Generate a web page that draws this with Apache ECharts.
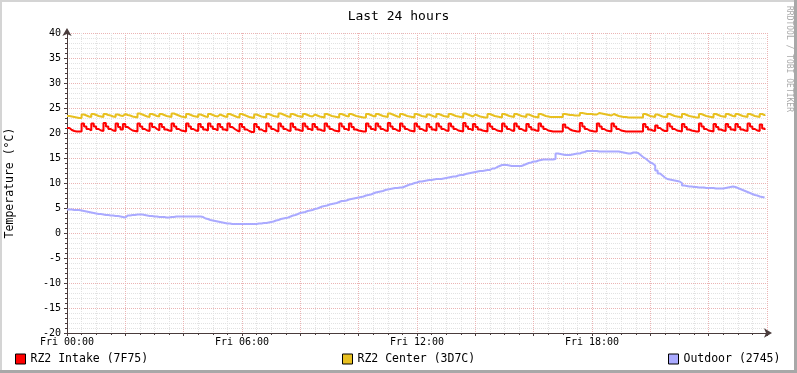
<!DOCTYPE html>
<html><head><meta charset="utf-8">
<script src="https://cdn.jsdelivr.net/npm/echarts@6/dist/echarts.min.js"></script>
<style>html,body{margin:0;padding:0;background:#fff}#c{width:797px;height:373px}</style>
</head><body><div id="c"></div>
<script>
const stepMinutes = 5;
const titleText = 'Last 24 hours';
const yAxisName = 'Temperature (°C)';
const xTickLabels = ['Fri 00:00', 'Fri 06:00', 'Fri 12:00', 'Fri 18:00'];
const seriesNames = ['RZ2 Intake (7F75)', 'RZ2 Center (3D7C)', 'Outdoor (2745)'];
const seriesColors = ['#ff0000', '#e8c020', '#aaaaff'];

const intake = [
21.0,20.6,20.4,20.3,20.3,20.3,21.9,21.3,20.8,20.5,21.9,21.3,
20.8,20.5,20.4,22.0,21.3,20.8,20.5,20.4,21.9,21.2,20.7,21.8,
21.2,20.8,20.5,20.4,20.3,21.9,21.3,20.8,20.5,20.4,21.9,21.2,
20.8,20.5,21.8,21.2,20.7,20.5,20.4,21.9,21.3,20.8,20.5,20.4,
20.3,21.9,21.3,20.8,20.5,20.4,21.8,21.2,20.7,20.5,21.9,21.3,
20.8,20.5,21.8,21.2,20.7,20.5,21.9,21.2,20.8,20.5,20.3,21.8,
21.2,20.7,20.4,20.2,20.2,21.8,21.2,20.7,20.4,20.3,21.9,21.3,
20.8,20.5,20.3,21.9,21.3,20.8,20.5,20.4,21.9,21.2,20.7,20.5,
20.4,21.9,21.3,20.8,20.5,21.8,21.2,20.7,20.5,20.4,21.9,21.3,
20.8,20.5,20.4,20.3,21.9,21.3,20.8,20.5,21.9,21.2,20.7,20.5,
20.4,20.3,20.3,21.9,21.3,20.8,20.5,21.9,21.3,20.8,20.5,20.4,
22.0,21.3,20.8,20.5,20.4,21.9,21.3,20.8,20.5,20.4,20.3,21.9,
21.3,20.8,20.5,20.4,21.8,21.2,20.7,20.5,21.9,21.3,20.8,20.5,
20.4,21.9,21.3,20.8,20.5,20.4,20.3,22.0,21.3,20.8,20.5,21.8,
21.2,20.7,20.5,20.4,20.3,21.9,21.3,20.8,20.5,20.4,20.3,21.9,
21.3,20.8,20.5,20.4,21.9,21.3,20.8,20.5,20.4,21.8,21.2,20.7,
20.5,20.4,21.9,21.3,20.8,20.5,20.4,20.3,20.3,20.3,20.3,20.3,
21.7,21.1,20.7,20.5,20.4,20.3,20.3,22.0,21.3,20.8,20.5,20.4,
20.3,20.3,21.9,21.3,20.8,20.5,20.4,20.3,21.9,21.3,20.8,20.5,
20.4,20.3,20.3,20.3,20.3,20.3,20.3,20.3,20.3,21.8,21.2,20.7,
20.5,20.4,21.5,21.0,20.6,20.4,20.4,21.9,21.3,20.8,20.5,20.4,
20.3,21.8,21.2,20.7,20.5,20.4,20.3,20.3,21.9,21.3,20.8,20.5,
20.4,20.3,21.8,21.2,20.7,20.5,20.4,21.8,21.2,20.7,20.5,21.8,
21.2,20.7,20.5,20.4,21.9,21.3,20.8,20.5,20.4,21.7,20.9,20.6
];

const center = [
23.4,23.3,23.2,23.1,23.0,23.0,23.7,23.5,23.3,23.2,23.8,23.6,
23.4,23.3,23.2,23.8,23.6,23.5,23.3,23.2,23.7,23.5,23.4,23.8,
23.6,23.5,23.3,23.2,23.1,23.9,23.7,23.5,23.3,23.2,23.8,23.6,
23.4,23.3,23.8,23.6,23.4,23.3,23.2,23.9,23.7,23.5,23.3,23.2,
23.1,23.8,23.6,23.4,23.3,23.2,23.7,23.5,23.3,23.2,23.8,23.6,
23.4,23.3,23.7,23.5,23.3,23.2,23.8,23.6,23.4,23.2,23.1,23.8,
23.6,23.4,23.2,23.1,23.0,23.7,23.5,23.3,23.2,23.1,23.8,23.6,
23.4,23.3,23.2,23.9,23.7,23.5,23.3,23.2,23.8,23.6,23.4,23.3,
23.2,23.8,23.6,23.4,23.3,23.7,23.5,23.3,23.2,23.1,23.8,23.6,
23.4,23.3,23.2,23.1,23.8,23.6,23.4,23.3,23.8,23.6,23.4,23.3,
23.2,23.1,23.1,23.8,23.6,23.4,23.3,23.8,23.6,23.4,23.3,23.2,
23.9,23.7,23.5,23.3,23.2,23.8,23.6,23.4,23.3,23.2,23.1,23.8,
23.6,23.4,23.3,23.2,23.7,23.5,23.3,23.2,23.8,23.6,23.4,23.3,
23.2,23.8,23.6,23.4,23.3,23.2,23.1,23.9,23.7,23.5,23.3,23.7,
23.5,23.3,23.2,23.1,23.1,23.8,23.6,23.4,23.3,23.2,23.1,23.8,
23.6,23.4,23.3,23.2,23.8,23.6,23.4,23.3,23.2,23.7,23.5,23.3,
23.2,23.1,23.8,23.6,23.4,23.3,23.2,23.2,23.2,23.2,23.2,23.2,
23.8,23.7,23.6,23.6,23.5,23.5,23.5,24.0,23.9,23.8,23.8,23.8,
23.7,23.7,24.0,23.9,23.8,23.7,23.6,23.5,23.8,23.6,23.4,23.3,
23.2,23.2,23.1,23.1,23.1,23.1,23.1,23.1,23.1,23.8,23.6,23.4,
23.3,23.2,23.7,23.5,23.3,23.2,23.2,23.8,23.6,23.4,23.3,23.2,
23.1,23.8,23.6,23.4,23.3,23.2,23.1,23.1,23.8,23.6,23.4,23.3,
23.2,23.1,23.8,23.6,23.4,23.3,23.2,23.8,23.6,23.4,23.3,23.8,
23.6,23.4,23.3,23.2,23.8,23.6,23.4,23.3,23.2,23.8,23.6,23.4
];

const outdoor = [
4.7,4.7,4.6,4.6,4.6,4.5,4.4,4.3,4.2,4.1,4.0,3.9,
3.8,3.8,3.7,3.6,3.6,3.5,3.5,3.4,3.4,3.3,3.2,3.1,
3.5,3.5,3.6,3.6,3.7,3.7,3.7,3.6,3.5,3.4,3.4,3.3,
3.3,3.2,3.2,3.2,3.1,3.1,3.2,3.2,3.3,3.3,3.3,3.3,
3.3,3.3,3.3,3.3,3.3,3.3,3.3,3.2,2.9,2.8,2.6,2.5,
2.4,2.3,2.2,2.1,2.0,1.9,1.9,1.8,1.8,1.8,1.8,1.8,
1.8,1.8,1.8,1.8,1.8,1.8,1.9,1.9,2.0,2.0,2.1,2.2,
2.3,2.5,2.6,2.8,2.9,3.0,3.1,3.3,3.5,3.6,3.8,4.0,
4.1,4.2,4.4,4.5,4.6,4.8,4.9,5.1,5.3,5.4,5.5,5.7,
5.8,5.9,6.0,6.2,6.4,6.4,6.5,6.7,6.8,6.9,7.0,7.1,
7.2,7.3,7.5,7.6,7.7,7.9,8.1,8.2,8.3,8.4,8.6,8.7,
8.8,8.9,9.0,9.0,9.1,9.1,9.3,9.5,9.7,9.8,10.0,10.1,
10.3,10.3,10.4,10.5,10.6,10.6,10.7,10.8,10.8,10.8,10.9,11.0,
11.1,11.2,11.3,11.3,11.5,11.6,11.6,11.8,11.9,12.0,12.1,12.2,
12.3,12.4,12.4,12.5,12.6,12.6,12.9,12.9,13.2,13.4,13.6,13.6,
13.6,13.5,13.4,13.4,13.4,13.4,13.4,13.6,13.8,14.0,14.1,14.3,
14.3,14.5,14.6,14.7,14.7,14.7,14.7,14.7,14.8,15.9,15.8,15.7,
15.6,15.6,15.6,15.7,15.8,15.9,15.9,16.1,16.2,16.4,16.4,16.4,
16.4,16.4,16.3,16.3,16.3,16.3,16.3,16.3,16.3,16.3,16.3,16.2,
16.1,16.0,15.9,15.9,16.1,16.1,16.0,15.6,15.2,14.9,14.5,14.1,
13.9,13.5,12.5,11.9,11.5,11.1,10.8,10.7,10.6,10.5,10.4,10.3,
10.0,9.5,9.4,9.3,9.3,9.2,9.2,9.1,9.1,9.1,9.0,9.0,
9.0,9.0,8.9,8.9,8.9,8.9,9.0,9.1,9.2,9.3,9.2,9.0,
8.8,8.6,8.4,8.2,8.0,7.8,7.6,7.5,7.3,7.2,7.1,7.1
];

const FONT = '"DejaVu Sans Mono", monospace';
const toPairs = arr => arr.map((v, i) => [i * stepMinutes, v]);
const values = [intake, center, outdoor];

const axisColor = '#4a3c3c';
const majorGrid = { show: true, lineStyle: { color: '#ebb4b4', type: [1, 1], width: 1 } };
const minorGrid = { show: true, lineStyle: { color: '#e2e2e2', type: [1, 1], width: 1 } };

const chart = echarts.init(document.getElementById('c'), null, { renderer: 'canvas' });
chart.setOption({
  animation: false,
  backgroundColor: '#ffffff',
  title: {
    text: titleText, left: 'center', top: 5,
    textStyle: { fontFamily: FONT, fontSize: 13, fontWeight: 'normal', color: '#000' }
  },
  grid: { left: 67, top: 33, width: 700, height: 300, containLabel: false, outerBoundsMode: 'none' },
  xAxis: {
    type: 'value', min: 0, max: 1440, interval: 120,
    axisLine: { show: true, onZero: false, lineStyle: { color: axisColor, width: 1 },
      symbol: ['none', 'arrow'], symbolSize: [7, 8], symbolOffset: [0, 5] },
    axisTick: { show: true, length: 3, lineStyle: { color: axisColor } },
    minorTick: { show: true, splitNumber: 4, length: 2, lineStyle: { color: axisColor } },
    splitLine: majorGrid,
    minorSplitLine: minorGrid,
    axisLabel: {
      margin: 4, fontFamily: FONT, fontSize: 10, color: '#000',
      showMaxLabel: false,
      formatter: v => (v % 360 === 0 && v < 1440) ? xTickLabels[v / 360] : ''
    }
  },
  yAxis: {
    type: 'value', min: -20, max: 40, interval: 5,
    name: yAxisName, nameLocation: 'middle', nameRotate: 90, nameGap: 51,
    nameTextStyle: { fontFamily: FONT, fontSize: 11.5, color: '#000' },
    axisLine: { show: true, onZero: false, lineStyle: { color: axisColor, width: 1 },
      symbol: ['none', 'arrow'], symbolSize: [7, 8], symbolOffset: [0, 5] },
    axisTick: { show: true, length: 3, lineStyle: { color: axisColor } },
    minorTick: { show: true, splitNumber: 5, length: 2, lineStyle: { color: axisColor } },
    splitLine: majorGrid,
    minorSplitLine: minorGrid,
    axisLabel: { margin: 6, fontFamily: FONT, fontSize: 10, color: '#000' }
  },
  legend: seriesNames.map((n, i) => ({
    data: [n], left: [15, 342, 668][i], top: 353, padding: 0,
    icon: 'rect', itemWidth: 10, itemHeight: 10,
    itemStyle: { borderColor: '#000', borderWidth: 1 },
    textStyle: { fontFamily: FONT, fontSize: 11.5, color: '#000' },
    selectedMode: false
  })),
  series: seriesNames.map((n, i) => ({
    name: n, type: 'line', step: 'end', showSymbol: false, silent: true,
    data: toPairs(values[i]), color: seriesColors[i],
    lineStyle: { color: seriesColors[i], width: 2 }
  })),
  graphic: [
    { type: 'text', x: 789, y: 6, rotation: -Math.PI / 2,
      style: { text: 'RRDTOOL / TOBI OETIKER', fontFamily: FONT, fontSize: 8, fill: '#aaaaaa',
        textAlign: 'left', textVerticalAlign: 'middle' } },
    { type: 'rect', shape: { x: 0, y: 0, width: 797, height: 2 }, style: { fill: '#d4d4d4' } },
    { type: 'rect', shape: { x: 0, y: 0, width: 2, height: 373 }, style: { fill: '#d4d4d4' } },
    { type: 'rect', shape: { x: 0, y: 370, width: 797, height: 3 }, style: { fill: '#a8a8a8' } },
    { type: 'rect', shape: { x: 794, y: 0, width: 3, height: 373 }, style: { fill: '#a8a8a8' } }
  ]
});
</script>
</body></html>
